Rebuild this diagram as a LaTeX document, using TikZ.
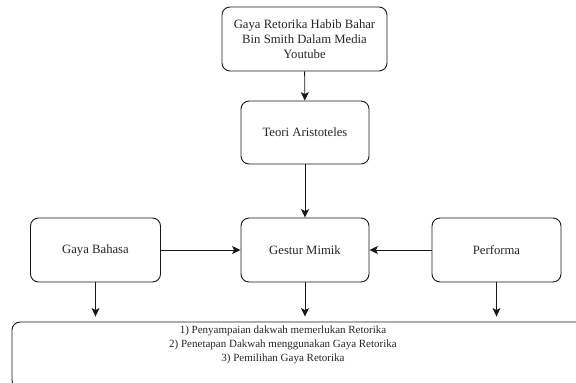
\documentclass[tikz,border=0pt]{standalone}
\usepackage{fontspec}
\setmainfont{Liberation Serif}
\usetikzlibrary{arrows.meta}
\begin{document}
\begin{tikzpicture}[x=1pt,y=-1pt,
  box/.style={draw=black!90, line width=0.9pt, rounded corners=8pt, align=center,
    font=\fontsize{12.7}{15}\selectfont, text=black!85, inner sep=0pt},
  txt/.style={align=center, font=\fontsize{11}{14}\selectfont, text=black!85, inner sep=0pt},
  arr/.style={draw=black!90, line width=0.9pt, -{Stealth[length=8.5pt,width=8pt,inset=2pt]}}]
\useasboundingbox (0,0) rectangle (576,383);
\clip (0,0) rectangle (576,383);
\node[box, minimum width=165pt, minimum height=64pt] (yt) at (304.5,39)
  {Gaya Retorika Habib Bahar\\Bin Smith Dalam Media\\Youtube};
\node[box, minimum width=128pt, minimum height=63pt] (teori) at (305,132.5) {Teori Aristoteles};
\node[box, minimum width=130pt, minimum height=64pt] (gaya) at (95.5,250) {Gaya Bahasa};
\node[box, minimum width=128pt, minimum height=64pt] (gestur) at (305,250) {Gestur Mimik};
\node[box, minimum width=129pt, minimum height=64pt] (perf) at (496.5,250) {Performa};
\node[box, minimum width=590pt, minimum height=66pt] (out) at (307,355) {};
\node[txt] (outtext) at (283,345)
  {1) Penyampaian dakwah memerlukan Retorika\\2) Penetapan Dakwah menggunakan Gaya Retorika\\3) Pemilihan Gaya Retorika};
\draw[arr] (yt) -- (teori);
\draw[arr] (teori) -- (gestur);
\draw[arr] (gaya) -- (gestur);
\draw[arr] (perf) -- (gestur);
\draw[arr, shorten >=5pt] (gaya.south) -- (gaya.south |- out.north);
\draw[arr, shorten >=5pt] (gestur.south) -- (gestur.south |- out.north);
\draw[arr, shorten >=5pt] (perf.south) -- (perf.south |- out.north);
\end{tikzpicture}
\end{document}
